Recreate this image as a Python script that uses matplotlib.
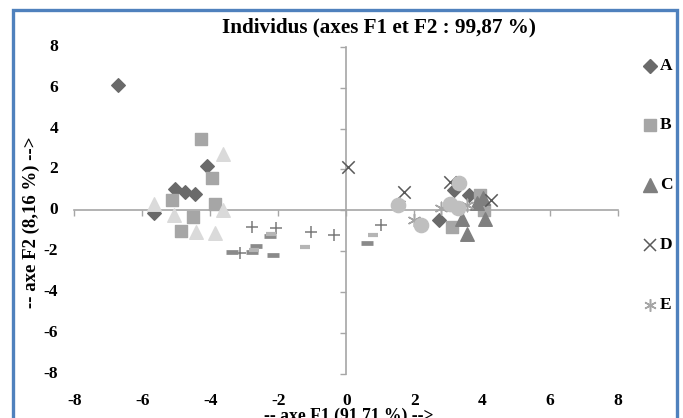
import matplotlib
matplotlib.use("Agg")
import matplotlib.pyplot as plt
from matplotlib.lines import Line2D
from matplotlib.patches import Rectangle

# ---------------- data ----------------
A_x = [-6.71, -4.11, -5.04, -4.75, -4.45, -5.66, 2.74, 3.18, 3.62]
A_y = [6.11, 2.17, 1.06, 0.90, 0.82, -0.13, -0.46, 0.98, 0.73]

B_x = [-4.26, -3.94, -5.12, -3.85, -4.50, -4.85, 3.12, 3.93, 4.06]
B_y = [3.51, 1.60, 0.49, 0.33, -0.33, -1.03, -0.80, 0.77, 0.00]

C_x = [3.40, 3.56, 4.10, 3.85, 4.02]
C_y = [-0.44, -1.14, -0.41, 0.35, 0.60]

D_x = [0.05, 1.70, 3.05, 4.27]
D_y = [2.12, 0.92, 1.38, 0.52]

E_x = [2.00, 2.78, 1.55, 3.55]
E_y = [-0.49, 0.10, 0.30, 0.25]

F_x = [-5.66, -3.64, -3.64, -5.07, -4.42, -3.87]
F_y = [0.33, 2.77, 0.03, -0.24, -1.06, -1.11]

G_x = [1.53, 2.20, 3.33, 3.05, 3.30]
G_y = [0.24, -0.73, 1.32, 0.30, 0.10]

H_x = [-3.13, -2.77, -2.08, -1.04, -0.35, 1.02]
H_y = [-2.09, -0.83, -0.85, -1.06, -1.22, -0.70]

I_x = [-3.36, -2.78, -2.66, -2.25, -2.14, 0.60]
I_y = [-2.05, -2.02, -1.72, -1.26, -2.20, -1.58]

J_x = [-2.72, -2.20, -1.20, 0.78]
J_y = [-1.95, -1.15, -1.79, -1.20]

legend_labels = ["A", "B", "C", "D", "E"]
ticks = [-8, -6, -4, -2, 0, 2, 4, 6, 8]

title = "Individus (axes F1 et F2 : 99,87 %)"
xlabel = "-- axe F1 (91,71 %) -->"
ylabel = "-- axe F2 (8,16 %) -->"

# ---------------- styles ----------------
styles = [
    dict(marker="D", s=48, color="#6a6a6a"),                 # A
    dict(marker="s", s=70, color="#a6a6a6"),                 # B
    dict(marker="^", s=95, color="#7f7f7f"),                 # C
    dict(marker="x", s=80, color="#595959", linewidths=1.1), # D
    dict(marker=(6, 2, 0), s=80, color="#a6a6a6", linewidths=1.1),  # E
    dict(marker="^", s=95, color="#dadada"),                 # F
    dict(marker="o", s=105, color="#bfbfbf"),                # G
    dict(marker="+", s=75, color="#7a7a7a", linewidths=1.1), # H
    dict(marker="_", s=80, color="#8a8a8a", linewidths=3.4), # I
    dict(marker="_", s=50, color="#b5b5b5", linewidths=3.0), # J
]
series = [(A_x, A_y), (B_x, B_y), (C_x, C_y), (D_x, D_y), (E_x, E_y),
          (F_x, F_y), (G_x, G_y), (H_x, H_y), (I_x, I_y), (J_x, J_y)]

plt.rcParams["font.family"] = ["Liberation Serif", "DejaVu Serif"]

fig = plt.figure(figsize=(6.83, 4.18), dpi=100)
W, H = 683, 418
ax = fig.add_axes([74.4 / W, 1 - 374 / H, (618 - 74.4) / W, (374 - 46.7) / H])
ax.set_xlim(-8, 8)
ax.set_ylim(-8, 8)
ax.patch.set_alpha(0)

order = [5, 8, 9, 7, 1, 6, 2, 0, 4, 3]
for i in order:
    xs, ys = series[i]
    ax.scatter(xs, ys, zorder=3 + i * 0.01, **styles[i])

# axes through origin
for side in ["top", "right"]:
    ax.spines[side].set_visible(False)
ax.spines["left"].set_position(("data", 0))
ax.spines["bottom"].set_position(("data", 0))
for side in ["left", "bottom"]:
    ax.spines[side].set_color("#a6a6a6")
    ax.spines[side].set_linewidth(1.2)
ax.set_xticks(ticks)
ax.set_yticks(ticks)
ax.tick_params(axis="both", direction="out", length=4, width=1.0, color="#a6a6a6",
               labelbottom=False, labelleft=False)

for t in ticks:
    ax.text(-0.03, (t + 8) / 16, f"{t}", transform=ax.transAxes, ha="right", va="center",
            fontsize=12.5, fontweight="bold")
    ax.text((t + 8) / 16, -0.084, f"{t}", transform=ax.transAxes, ha="center", va="center",
            fontsize=12.5, fontweight="bold")

fig.text(379 / W, 1 - 27 / H, title, ha="center", va="center", fontsize=15.2, fontweight="bold")
fig.text(349 / W, 1 - 408 / H, xlabel, ha="center", va="top", fontsize=12.7, fontweight="bold")
fig.text(31 / W, 1 - 222 / H, ylabel, ha="center", va="center", rotation=90,
         fontsize=13.5, fontweight="bold")

# legend (only first five entries visible)
leg_y = [66, 125, 185, 245, 305]
for k, lab in enumerate(legend_labels):
    st = styles[k]
    yk = 1 - leg_y[k] / H
    ln = Line2D([650 / W], [yk], transform=fig.transFigure, linestyle="none",
                marker=st["marker"], markersize=st["s"] ** 0.5,
                markerfacecolor=st["color"], markeredgecolor=st["color"],
                markeredgewidth=st.get("linewidths", 1.0))
    fig.add_artist(ln)
    fig.text(660 / W, yk, lab, ha="left", va="center", fontsize=12.5, fontweight="bold")

# blue outer frame
fig.add_artist(Rectangle((13 / W, -0.05), (677 - 13) / W, 1 - 10 / H + 0.05,
                         transform=fig.transFigure, fill=False, edgecolor="#4f81bd",
                         linewidth=2.4))

fig.savefig("out.png", dpi=100)
